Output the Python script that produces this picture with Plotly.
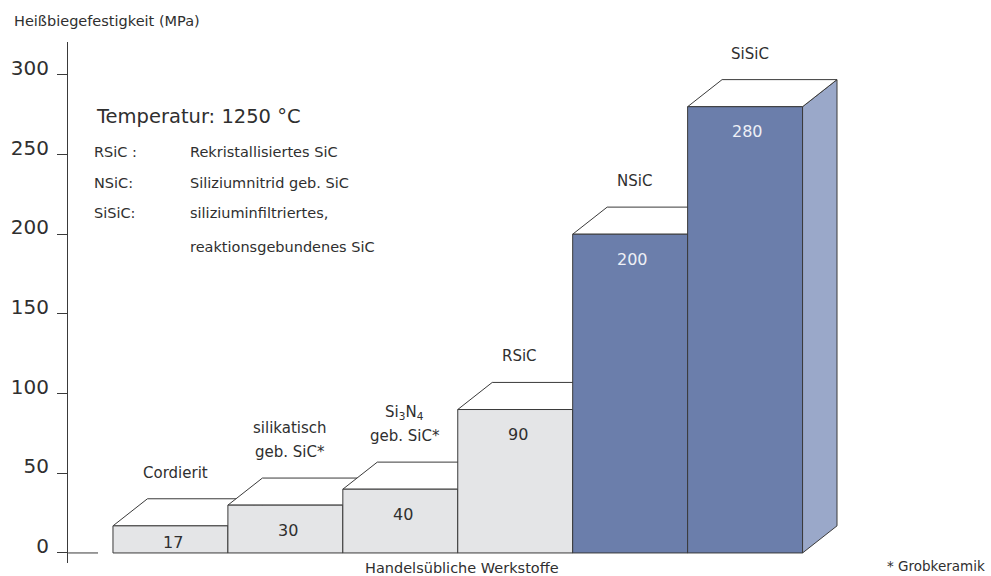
import plotly.graph_objects as go

# Hot bending strength at 1250 °C for common refractory materials
materials = [["Cordierit"],
             ["silikatisch", "geb. SiC*"],
             ["Si<sub>3</sub>N<sub>4</sub>", "geb. SiC*"],
             ["RSiC"], ["NSiC"], ["SiSiC"]]
strength = [17, 30, 40, 90, 200, 280]
is_sic_family = [False, False, False, False, True, True]

y_ticks = [0, 50, 100, 150, 200, 250, 300]

legend_keys = ["RSiC :", "NSiC:", "SiSiC:", ""]
legend_texts = ["Rekristallisiertes SiC", "Siliziumnitrid geb. SiC",
                "siliziuminfiltriertes,", "reaktionsgebundenes SiC"]

FONT = "DejaVu Sans"
TEXT = "#2f2f2f"
EDGE = "#3a3a3a"
LIGHT_FRONT = "#e4e5e7"
BLUE_FRONT = "#6b7eab"
BLUE_SIDE = "#9aa8c9"
TOP = "#ffffff"

DX = 0.30   # depth offset along x (category units)
DY = 17.0   # depth offset along y (MPa units)

fig = go.Figure()

# invisible trace so the axes exist
fig.add_trace(go.Scatter(x=list(range(len(strength))), y=strength, mode="markers",
                         marker=dict(opacity=0), hoverinfo="skip", showlegend=False))

shapes = []
annotations = []
for i, (v, blue) in enumerate(zip(strength, is_sic_family)):
    x0, x1 = i - 0.5, i + 0.5
    front = BLUE_FRONT if blue else LIGHT_FRONT
    side = BLUE_SIDE if blue else LIGHT_FRONT
    # side face
    shapes.append(dict(type="path", xref="x", yref="y",
                       path=f"M {x1},0 L {x1 + DX},{DY} L {x1 + DX},{v + DY} L {x1},{v} Z",
                       fillcolor=side, line=dict(color=EDGE, width=1)))
    # top face
    shapes.append(dict(type="path", xref="x", yref="y",
                       path=f"M {x0},{v} L {x0 + DX},{v + DY} L {x1 + DX},{v + DY} L {x1},{v} Z",
                       fillcolor=TOP, line=dict(color=EDGE, width=1)))
    # front face
    shapes.append(dict(type="rect", xref="x", yref="y", x0=x0, x1=x1, y0=0, y1=v,
                       fillcolor=front, line=dict(color=EDGE, width=1)))

    # value inside the front face
    annotations.append(dict(x=i + 0.02, y=max(v - 15.7, v * 0.37), xref="x", yref="y",
                            text=str(v), showarrow=False, yanchor="middle",
                            font=dict(family=FONT, size=16,
                                      color="#eef0f6" if blue else TEXT)))
    # material name above the bar, one annotation per line
    lines = materials[i]
    for k, line in enumerate(lines):
        annotations.append(dict(x=i + 0.04, y=v + DY, xref="x", yref="y",
                                text=line, showarrow=False, yanchor="middle",
                                yshift=26 + 24 * (len(lines) - 1 - k),
                                font=dict(family=FONT, size=15, color=TEXT)))

# zero baseline extending right of the axis
shapes.append(dict(type="line", xref="x", yref="y", x0=-0.89, x1=-0.63, y0=0, y1=0,
                   line=dict(color=EDGE, width=1)))

# info block
annotations.append(dict(x=-0.665, y=274, xref="x", yref="y", xanchor="left",
                        text="Temperatur: 1250 °C", showarrow=False,
                        font=dict(family=FONT, size=19.5, color=TEXT)))
row_y = [251.5, 232.2, 213.4, 192.0]
for key, txt, yy in zip(legend_keys, legend_texts, row_y):
    if key:
        annotations.append(dict(x=-0.68, y=yy, xref="x", yref="y", xanchor="left",
                                text=key, showarrow=False,
                                font=dict(family=FONT, size=14.5, color=TEXT)))
    annotations.append(dict(x=0.155, y=yy, xref="x", yref="y", xanchor="left",
                            text=txt, showarrow=False,
                            font=dict(family=FONT, size=14.5, color=TEXT)))

# axis title and footnotes
annotations.append(dict(x=-0.0707, y=1.040, xref="paper", yref="paper", xanchor="left",
                        yanchor="middle", text="Heißbiegefestigkeit (MPa)", showarrow=False,
                        font=dict(family=FONT, size=14.5, color=TEXT)))
annotations.append(dict(x=0.498, y=-0.0096, xref="paper", yref="paper", xanchor="center",
                        yanchor="middle", text="Handelsübliche Werkstoffe", showarrow=False,
                        font=dict(family=FONT, size=14.5, color=TEXT)))
annotations.append(dict(x=1.1605, y=-0.006, xref="paper", yref="paper", xanchor="right",
                        yanchor="middle", text="* Grobkeramik", showarrow=False,
                        font=dict(family=FONT, size=13.5, color=TEXT)))

fig.update_layout(
    width=991, height=576,
    margin=dict(l=68, r=130.5, t=42, b=13),
    paper_bgcolor="white", plot_bgcolor="white",
    shapes=shapes, annotations=annotations,
    showlegend=False,
    xaxis=dict(visible=False, range=[-0.8913, 6.0], fixedrange=True),
    yaxis=dict(range=[-6.3, 320.6], tickvals=y_ticks, ticktext=[str(t) for t in y_ticks],
               automargin=False,
               ticks="outside", ticklen=10, tickcolor=EDGE, tickwidth=1,
               showline=True, linecolor=EDGE, linewidth=1,
               showgrid=False, zeroline=False, ticklabelshift=-7, ticklabelstandoff=4,
               tickfont=dict(family=FONT, size=20, color=TEXT)),
)

fig.write_html("out.html")
